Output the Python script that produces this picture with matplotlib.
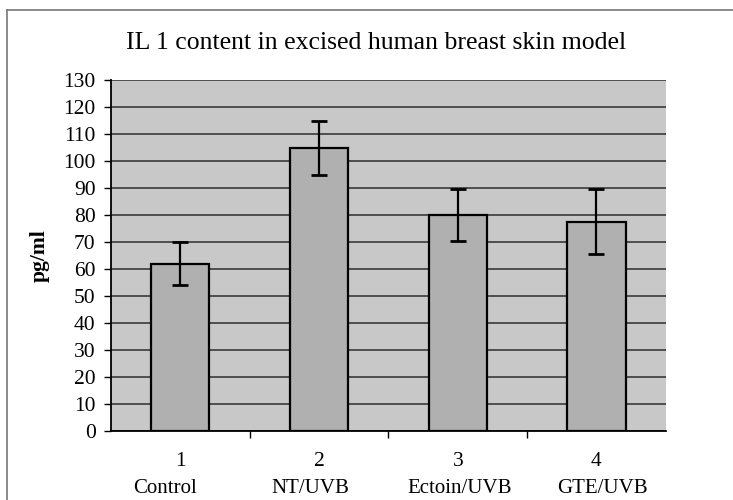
import numpy as np
import matplotlib.pyplot as plt
from matplotlib.lines import Line2D

plt.rcParams['font.family'] = ['Liberation Serif', 'DejaVu Serif']

numbers = ['1', '2', '3', '4']
names = ['Control', 'NT/UVB', 'Ectoin/UVB', 'GTE/UVB']
il1 = [62, 105, 80, 77.5]
err = [8, 10, 9.5, 12]
yticks = list(range(0, 131, 10))

fig = plt.figure(figsize=(7.33, 5.0), dpi=100)
fig.patch.set_facecolor('white')

# page frame, left and top edges only
fig.add_artist(Line2D([0.009, 0.009], [0.0, 0.98], color='#777777', lw=1.2))
fig.add_artist(Line2D([0.009, 1.0], [0.98, 0.98], color='#777777', lw=1.2))

ax = fig.add_axes([0.1514, 0.138, 0.757, 0.702])
ax.set_facecolor('#c8c8c8')

x = np.arange(len(names))
ax.set_axisbelow(True)
ax.yaxis.grid(True, color='#3a3a3a', lw=1.2)
ax.bar(x, il1, width=0.42, color='#b0b0b0', edgecolor='black', linewidth=1.6,
       yerr=err, error_kw=dict(ecolor='black', elinewidth=1.6, capsize=6, capthick=2), zorder=3)

ax.set_xlim(-0.5, len(names) - 0.5)
ax.set_ylim(0, 130)
ax.set_yticks(yticks)
ax.tick_params(axis='y', labelsize=15.5, length=5, width=1, direction='out', pad=6)

# x ticks sit between the categories; labels are drawn as text below
ax.set_xticks(np.arange(0.5, len(names) - 0.5, 1))
ax.set_xticklabels([])
ax.tick_params(axis='x', length=5, width=1, direction='out')

name_shift = [-0.11, -0.06, 0.01, 0.04]
for i in range(len(names)):
    ax.text(x[i], -0.088, numbers[i], transform=ax.get_xaxis_transform(),
            ha='center', va='center', fontsize=15.5)
    ax.text(x[i] + name_shift[i], -0.163, names[i], transform=ax.get_xaxis_transform(),
            ha='center', va='center', fontsize=15)

for s in ['top', 'right']:
    ax.spines[s].set_visible(False)
for s in ['left', 'bottom']:
    ax.spines[s].set_linewidth(1.3)

ax.set_ylabel('pg/ml', fontsize=15.5, fontweight='bold', labelpad=10)
fig.text(0.513, 0.914, 'IL 1 content in excised human breast skin model',
         ha='center', va='center', fontsize=18.5)

fig.savefig('out.png', dpi=100)
